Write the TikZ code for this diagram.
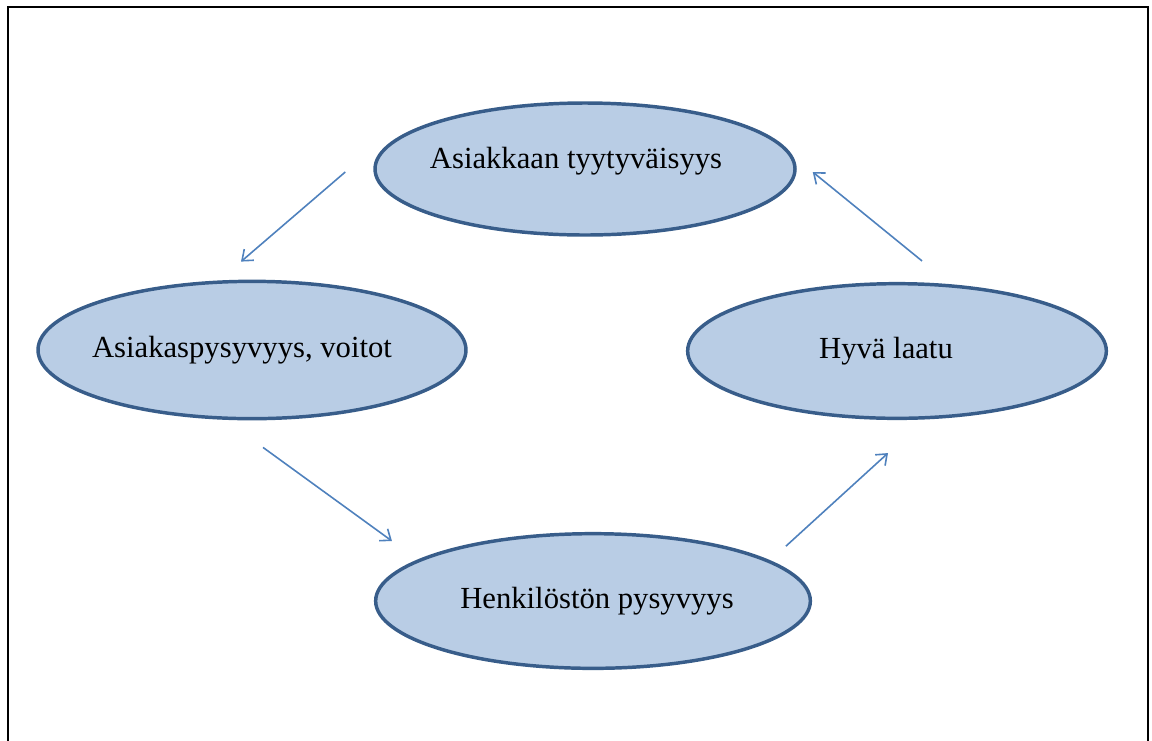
\documentclass[tikz,border=0pt]{standalone}
\usepackage{fontspec}
\setmainfont{Liberation Serif}
\usetikzlibrary{shapes.geometric, arrows.meta}
\definecolor{ovalfill}{RGB}{185,205,229}
\definecolor{ovaldraw}{RGB}{56,93,138}
\definecolor{arrowblue}{RGB}{79,129,189}

\begin{document}
\begin{tikzpicture}[x=0.75pt, y=-0.75pt,
             every node/.style = {draw=ovaldraw, fill=ovalfill, shape=ellipse,
                                  line width=2.6pt, inner sep=0pt,
                                  font=\fontsize{23}{27}\selectfont},
             flow/.style = {draw=arrowblue, line width=1.2pt,
                            -{Straight Barb[length=7pt, width=11pt]}}]
\useasboundingbox (0,0) rectangle (1152,740);
\draw [line width=2pt] (8,750) -- (8,7) -- (1148,7) -- (1148,750);

\node (tyyt) at (585,169) [minimum width=315pt, minimum height=99pt] {\kern-13.5pt\raisebox{6pt}[\height][\depth]{Asiakkaan tyytyväisyys}};
\node (pysy) at (252,350) [minimum width=321pt, minimum height=103pt] {\kern-15pt Asiakaspysyvyys, voitot};
\node (laatu) at (897,351) [minimum width=314pt, minimum height=101pt] {\kern-16.5pt Hyvä laatu};
\node (henk) at (593,601) [minimum width=326pt, minimum height=101pt] {\kern6pt Henkilöstön pysyvyys};

\draw [flow] ([shift={(-28,3)}]tyyt.west) -- ([shift={(-11,-18)}]pysy.north);
\draw [flow] ([shift={(11,27)}]pysy.south) -- ([shift={(18,-60)}]henk.west);
\draw [flow] ([shift={(38,-6)}]henk.north east) -- ([shift={(-9,33)}]laatu.south);
\draw [flow] ([shift={(25,-21)}]laatu.north) -- ([shift={(16,3)}]tyyt.east);

\end{tikzpicture}
\end{document}
